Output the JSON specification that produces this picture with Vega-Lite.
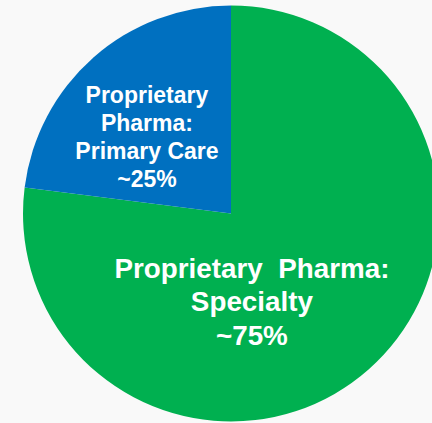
{
  "$schema": "https://vega.github.io/schema/vega-lite/v6.json",
  "width": 462,
  "height": 427,
  "padding": 0,
  "autosize": "none",
  "background": "#f9f9f9",
  "config": {"view": {"stroke": null}},
  "data": {
    "values": [
      {"segment": "Specialty", "value": 77, "label": "Proprietary\u00a0 Pharma:\nSpecialty\n~75%"},
      {"segment": "Primary Care", "value": 23, "label": "Proprietary\nPharma:\nPrimary Care\n~25%"}
    ]
  },
  "encoding": {
    "theta": {"field": "value", "type": "quantitative", "stack": true},
    "order": {"field": "value", "type": "quantitative", "sort": "descending"}
  },
  "layer": [
    {
      "mark": {"type": "arc", "outerRadius": 208},
      "encoding": {
        "color": {
          "field": "segment",
          "type": "nominal",
          "scale": {"domain": ["Specialty", "Primary Care"], "range": ["#00b050", "#0070c0"]},
          "legend": null
        }
      }
    },
    {
      "mark": {
        "type": "text",
        "radius": 112,
        "dx": -10,
        "dy": -33,
        "font": "Liberation Sans",
        "fontWeight": "bold",
        "fontSize": 23,
        "lineHeight": 27.7,
        "lineBreak": "\n",
        "align": "center",
        "baseline": "middle",
        "color": "white"
      },
      "encoding": {
        "text": {"condition": {"test": "datum.segment === 'Primary Care'", "field": "label"}, "value": ""}
      }
    },
    {
      "mark": {
        "type": "text",
        "radius": 80,
        "dx": -32,
        "dy": -4,
        "font": "Liberation Sans",
        "fontWeight": "bold",
        "fontSize": 27.8,
        "lineHeight": 33.5,
        "lineBreak": "\n",
        "align": "center",
        "baseline": "middle",
        "color": "white"
      },
      "encoding": {
        "text": {"condition": {"test": "datum.segment === 'Specialty'", "field": "label"}, "value": ""}
      }
    }
  ]
}
